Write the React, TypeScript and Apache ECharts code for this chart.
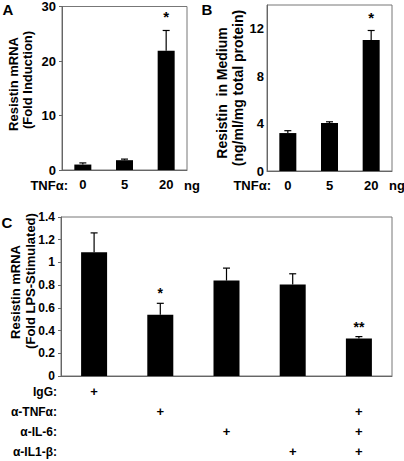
import React, { useEffect, useRef } from "react";
import * as echarts from "echarts";

// ---- Data ----
const tnfDoses = ["0", "5", "20"];
const mrnaFold = [1.0, 1.8, 21.9];
const mrnaErr = [0.3, 0.2, 3.7];
const mrnaSig = ["", "", "*"];

const mediumConc = [3.2, 4.05, 11.05];
const mediumErr = [0.2, 0.1, 0.8];
const mediumSig = ["", "", "*"];

const treatments = ["IgG", "a-TNF", "a-IL-6", "a-IL1-b", "combined"];
const lpsFold = [1.09, 0.54, 0.84, 0.805, 0.33];
const lpsErr = [0.17, 0.1, 0.11, 0.095, 0.017];
const lpsSig = ["", "*", "", "", "**"];

const rowLabels = ["IgG:", "α-TNFα:", "α-IL-6:", "α-IL1-β:"];
const iggRow = [1, 0, 0, 0, 0];
const antiTnfRow = [0, 1, 0, 0, 1];
const antiIl6Row = [0, 0, 1, 0, 1];
const antiIl1Row = [0, 0, 0, 1, 1];
const treatmentRows = [iggRow, antiTnfRow, antiIl6Row, antiIl1Row];

const FONT = "'Liberation Sans', Arial, Helvetica, sans-serif";

function errorSeries(idx: number, values: number[], errs: number[], sig: string[], starGap: number, starSize: number) {
  return {
    type: "custom",
    xAxisIndex: idx,
    yAxisIndex: idx,
    silent: true,
    z: 5,
    data: values.map((v, i) => [i, v, errs[i]]),
    renderItem: (params: any, api: any) => {
      const i = api.value(0);
      const v = api.value(1);
      const e = api.value(2);
      const base = api.coord([i, v]);
      const top = api.coord([i, v + e]);
      const cap = 3.5;
      const children: any[] = [
        {
          type: "line",
          shape: { x1: base[0], y1: base[1], x2: top[0], y2: top[1] },
          style: { stroke: "#000", lineWidth: 1.2 },
        },
        {
          type: "line",
          shape: { x1: top[0] - cap, y1: top[1], x2: top[0] + cap, y2: top[1] },
          style: { stroke: "#000", lineWidth: 1.2 },
        },
      ];
      const s = sig[params.dataIndex];
      if (s) {
        children.push({
          type: "text",
          x: top[0],
          y: top[1] - starGap,
          style: {
            text: s,
            fill: "#000",
            font: `bold ${starSize}px ${FONT}`,
            align: "center",
            verticalAlign: "middle",
            textAlign: "center",
            textVerticalAlign: "middle",
          },
        });
      }
      return { type: "group", children };
    },
  };
}

function txt(text: string, x: number, y: number, size: number, align = "center", rotation = 0, weight = "bold") {
  return {
    type: "text",
    x,
    y,
    rotation,
    silent: true,
    style: {
      text,
      fill: "#000",
      font: `${weight} ${size}px ${FONT}`,
      align,
      verticalAlign: "middle",
      textAlign: align,
      textVerticalAlign: "middle",
    },
  };
}

export default function App() {
  const ref = useRef<HTMLDivElement>(null);
  useEffect(() => {
    document.body.style.margin = "0";
    if (!ref.current) return;
    const chart = echarts.init(ref.current, null, { renderer: "svg" });

    const axisLineStyle = { color: "#666", width: 1 };
    const yLabel = { color: "#000", fontWeight: "bold" as const, fontFamily: FONT, fontSize: 13, margin: 6 };

    const catAxis = (idx: number, data: string[], extra: any = {}) => ({
      type: "category",
      gridIndex: idx,
      data,
      axisLine: { lineStyle: axisLineStyle },
      axisTick: { show: false },
      axisLabel: { color: "#000", fontWeight: "bold", fontFamily: FONT, fontSize: 13, margin: 8, ...extra },
    });

    const option: any = {
      animation: false,
      backgroundColor: "#fff",
      grid: [
        { left: 62, top: 5, width: 125, height: 165, show: true, borderColor: "#777", borderWidth: 1 },
        { left: 267, top: 5, width: 125, height: 166, show: true, borderColor: "#777", borderWidth: 1 },
        { left: 61, top: 217, width: 331, height: 160, show: true, borderColor: "#777", borderWidth: 1 },
      ],
      xAxis: [
        catAxis(0, tnfDoses),
        catAxis(1, tnfDoses),
        catAxis(2, treatments, {
          fontSize: 13,
          lineHeight: 20,
          margin: 5,
          formatter: (_v: string, i: number) => treatmentRows.map((r) => (r[i] ? "+" : " ")).join("\n"),
        }),
      ],
      yAxis: [
        {
          type: "value", gridIndex: 0, min: 0, max: 30, interval: 10,
          splitLine: { show: false },
          axisLine: { show: true, lineStyle: axisLineStyle },
          axisTick: { show: true, length: 3, lineStyle: axisLineStyle },
          axisLabel: yLabel,
        },
        {
          type: "value", gridIndex: 1, min: 0, max: 14, interval: 4,
          splitLine: { show: false },
          axisLine: { show: true, lineStyle: axisLineStyle },
          axisTick: { show: false },
          axisLabel: { ...yLabel, showMaxLabel: false, margin: 3 },
        },
        {
          type: "value", gridIndex: 2, min: 0, max: 1.4, interval: 0.2,
          splitLine: { show: false },
          axisLine: { show: true, lineStyle: axisLineStyle },
          axisTick: { show: true, length: 3, lineStyle: axisLineStyle },
          axisLabel: { ...yLabel, fontSize: 12, margin: 6 },
        },
      ],
      series: [
        { type: "bar", xAxisIndex: 0, yAxisIndex: 0, data: mrnaFold, barWidth: 17, itemStyle: { color: "#000" } },
        { type: "bar", xAxisIndex: 1, yAxisIndex: 1, data: mediumConc, barWidth: 17, itemStyle: { color: "#000" } },
        { type: "bar", xAxisIndex: 2, yAxisIndex: 2, data: lpsFold, barWidth: 26, itemStyle: { color: "#000" } },
        errorSeries(0, mrnaFold, mrnaErr, mrnaSig, 14, 15),
        errorSeries(1, mediumConc, mediumErr, mediumSig, 13, 15),
        errorSeries(2, lpsFold, lpsErr, lpsSig, 10, 14),
      ],
      graphic: [
        txt("A", 8, 9, 15),
        txt("B", 207, 9, 15),
        txt("C", 7, 222, 15),
        txt("Resistin mRNA", 13, 84, 13, "center", Math.PI / 2),
        txt("(Fold Induction)", 27, 80, 13, "center", Math.PI / 2),
        txt("Resistin  in Medium", 222, 93, 14, "center", Math.PI / 2),
        txt("(ng/ml/mg total protein)", 238, 88, 14, "center", Math.PI / 2),
        txt("Resistin mRNA", 15, 292, 13, "center", Math.PI / 2),
        txt("(Fold LPS-Stimulated)", 30, 281, 13, "center", Math.PI / 2),
        txt("TNFα:", 68, 185, 13, "right"),
        txt("ng", 192, 185, 13),
        txt("TNFα:", 271, 185, 13, "right"),
        txt("ng", 397, 185, 13),
        ...rowLabels.map((l, i) => txt(l, 57, 392 + i * 20, 12, "right")),
      ],
    };
    chart.setOption(option);
    return () => chart.dispose();
  }, []);
  return <div ref={ref} style={{ width: 404, height: 461 }} />;
}
